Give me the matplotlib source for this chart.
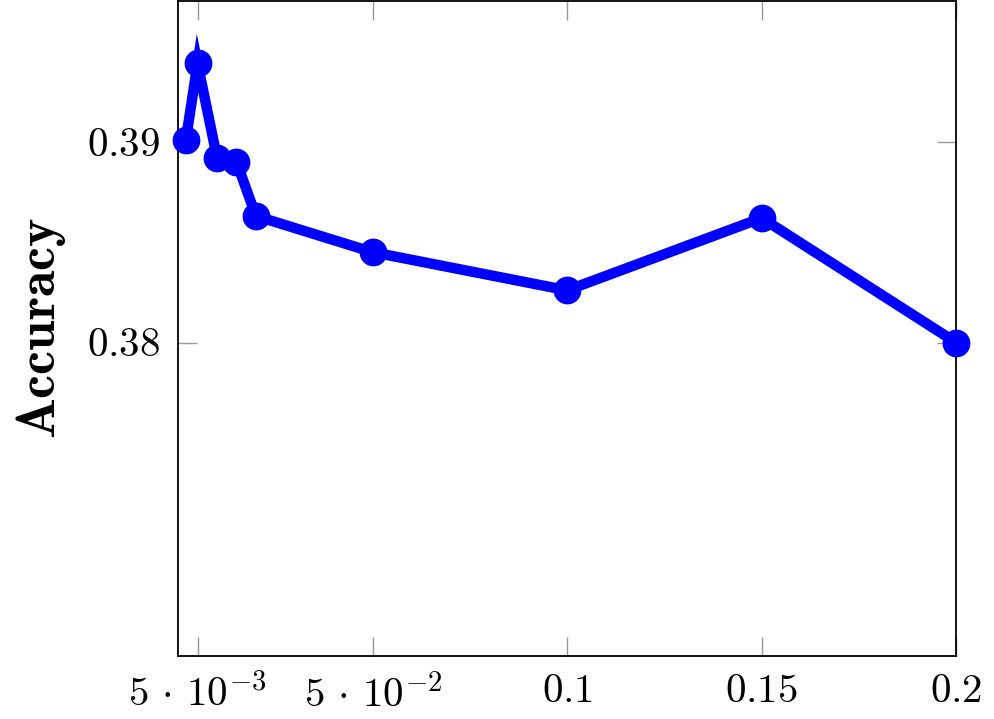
import matplotlib
matplotlib.use('Agg')
from matplotlib import pyplot as plt

plt.rcParams['mathtext.fontset'] = 'cm'
plt.rcParams['font.family'] = 'serif'
plt.rcParams['font.serif'] = ['cmr10', 'DejaVu Serif']
plt.rcParams['axes.formatter.use_mathtext'] = True

ratios = [0.002, 0.005, 0.01, 0.015, 0.02, 0.05, 0.1, 0.15, 0.2]
accuracy = [0.3901, 0.3939, 0.3892, 0.3890, 0.3863, 0.3845, 0.3826, 0.3862, 0.3800]

x_ticks = [0.005, 0.05, 0.1, 0.15, 0.2]
x_tick_labels = [r'$5\,\cdot\,10^{-3}$', r'$5\,\cdot\,10^{-2}$', r'$0.1$', r'$0.15$', r'$0.2$']
y_ticks = [0.38, 0.39]
y_tick_labels = [r'$0.38$', r'$0.39$']

fig = plt.figure(figsize=(9.95, 7.19), dpi=100)
ax = fig.add_axes([0.179, 0.0876, 0.782, 0.911])

ax.plot(ratios, accuracy, color='#0000ff', linewidth=7.5, marker='o',
        markersize=19, solid_joinstyle='miter', clip_on=False, zorder=3)

ax.set_xlim(0, 0.2)
ax.set_ylim(0.3644, 0.397)
ax.set_xticks(x_ticks)
ax.set_xticklabels(x_tick_labels)
ax.set_yticks(y_ticks)
ax.set_yticklabels(y_tick_labels)

ax.tick_params(direction='in', length=14, width=1, color='#999999',
               top=True, right=True, labelsize=29.5, pad=13)
for s in ax.spines.values():
    s.set_linewidth(1.3)

ax.set_ylabel(r'$\mathbf{Accuracy}$', fontsize=39, labelpad=14)

fig.savefig('out.png', dpi=100)
